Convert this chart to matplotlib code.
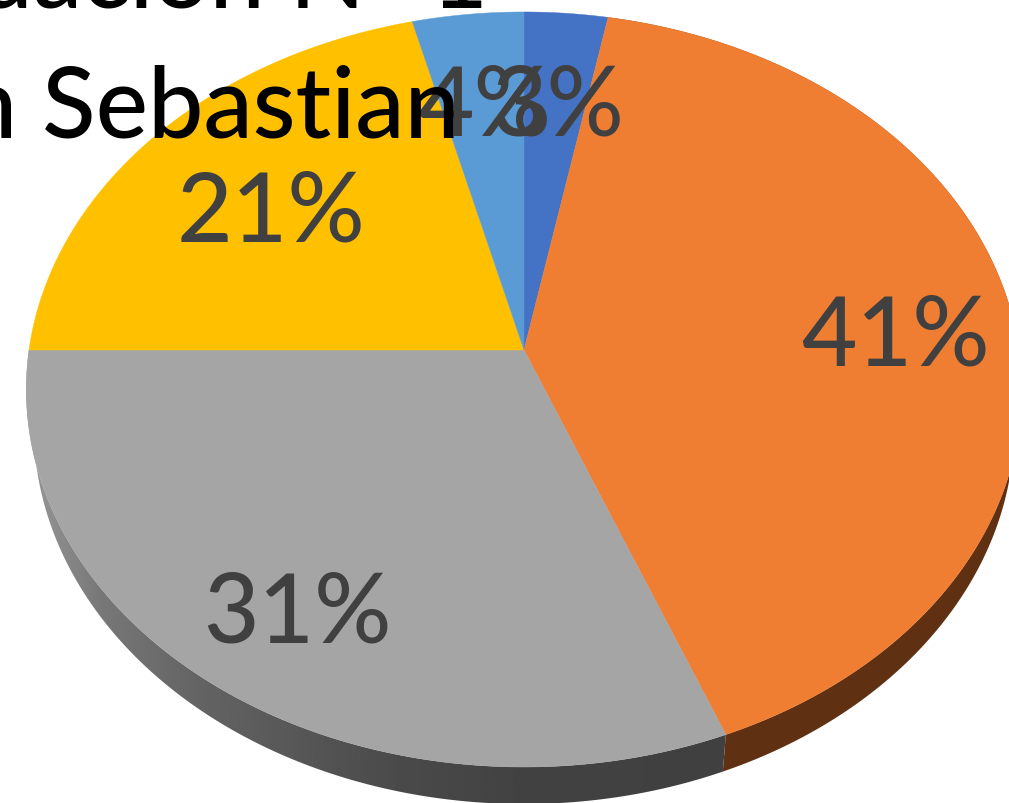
import numpy as np
import matplotlib
matplotlib.use("Agg")
import matplotlib.pyplot as plt
from matplotlib.patches import Polygon

plt.rcParams['font.family'] = ['Lato', 'DejaVu Sans']

# slices, clockwise from 12 o'clock
values = [3, 41, 31, 21, 4]
colors = ['#4472c4', '#f07e32', '#a5a5a5', '#ffc000', '#5b9bd5']
label_x = [558, 895, 297, 271, 485]
label_y = [108, 338, 615, 214, 108]
title_lines = ["Graduación N° 1", "n Sebastian"]

W, H = 1009, 804
fig = plt.figure(figsize=(W/100, H/100), dpi=100)
ax = fig.add_axes([0, 0, 1, 1])
ax.set_xlim(0, W)
ax.set_ylim(H, 0)
ax.axis('off')

# tilted disc, perspective projection of the unit circle
cx, cy = 524, 351
A, B, k = 495, 373.4, 0.1046
depth = 37
shrink = 0.985

def rim(theta):
    u, v = np.sin(theta), np.cos(theta)
    d = 1 + k*v
    return cx + A*u/d, cy - B*v/d

def low(theta):
    x, y = rim(theta)
    return cx + shrink*(x-cx), y + depth

edges = np.cumsum([0] + values)/sum(values)*2*np.pi

# side wall, orange is flat, grey gets a gradient
t = np.linspace(edges[1], edges[2], 200)
x1, y1 = rim(t)
x2, y2 = low(t)
ax.fill(np.r_[x1, x2[::-1]], np.r_[y1, y2[::-1]], color='#5f3112', lw=0, zorder=1)

t = np.linspace(edges[2], edges[3], 300)
x1, y1 = rim(t)
x2, y2 = low(t)
wall = Polygon(np.c_[np.r_[x1, x2[::-1]], np.r_[y1, y2[::-1]]], closed=True, fc='none', ec='none')
ax.add_patch(wall)
gx = np.linspace(26, 726, 256)
grad = np.interp(gx, [26, 100, 200, 300, 400, 520, 726],
                 [0.60, 0.47, 0.39, 0.34, 0.29, 0.26, 0.25]).reshape(1, -1)
im = ax.imshow(grad, cmap='gray', vmin=0, vmax=1, extent=[26, 726, H, 0], aspect='auto', zorder=1)
im.set_clip_path(wall)
ax.set_xlim(0, W)
ax.set_ylim(H, 0)

# top face
for i in range(len(values)):
    t = np.linspace(edges[i], edges[i+1], 200)
    x, y = rim(t)
    ax.fill(np.r_[cx, x], np.r_[cy, y], color=colors[i], lw=0.3, zorder=2)

for v, lx, ly in zip(values, label_x, label_y):
    ax.text(lx, ly, "%d%%" % v, color='#404040', fontsize=69, fontweight='medium',
            ha='center', va='center', zorder=3)

ax.text(488, 7, title_lines[0], color='black', fontsize=71, fontweight='medium',
        ha='right', va='baseline', zorder=4)
ax.text(460, 137, title_lines[1], color='black', fontsize=71, fontweight='medium',
        ha='right', va='baseline', zorder=4)

fig.savefig('out.png', dpi=100)
